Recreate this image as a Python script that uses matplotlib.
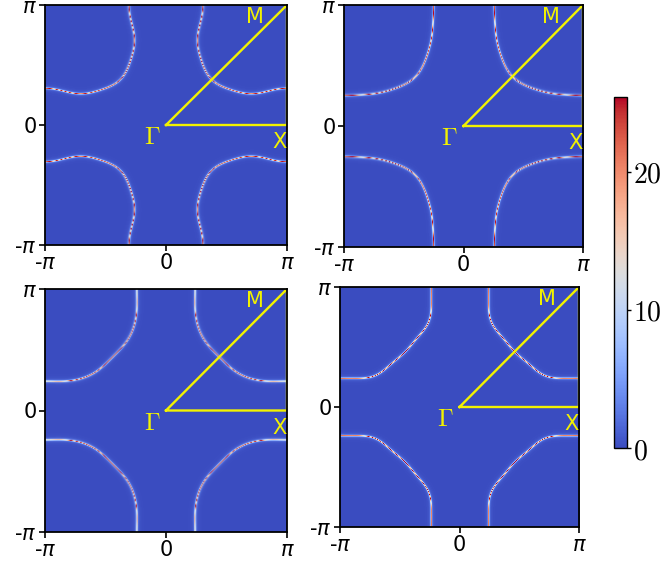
import numpy as np
import matplotlib
matplotlib.use("Agg")
import matplotlib.pyplot as plt

# ---- data: Fermi-surface crossings (first quadrant, units of pi)
fs1_kx = [1.0, 0.86, 0.694, 0.556, 0.38, 0.281, 0.253, 0.267, 0.295]
fs1_ky = [0.314, 0.297, 0.269, 0.306, 0.38, 0.514, 0.68, 0.82, 0.986]

fs2_kx = [1.0, 0.79, 0.652, 0.513, 0.404, 0.317, 0.275, 0.256, 0.25]
fs2_ky = [0.256, 0.264, 0.292, 0.353, 0.404, 0.518, 0.683, 0.876, 0.986]

fs3_kx = [1.0, 0.777, 0.639, 0.529, 0.442, 0.336, 0.267, 0.24, 0.234]
fs3_ky = [0.249, 0.249, 0.276, 0.344, 0.442, 0.577, 0.70, 0.82, 0.986]

fs4_kx = [1.0, 0.79, 0.69, 0.62, 0.458, 0.30, 0.252, 0.235, 0.232]
fs4_ky = [0.247, 0.247, 0.267, 0.322, 0.458, 0.64, 0.74, 0.836, 1.0]

panels_kx = [fs1_kx, fs2_kx, fs3_kx, fs4_kx]
panels_ky = [fs1_ky, fs2_ky, fs3_ky, fs4_ky]
panels_nharm = [4, 4, 4, 4]

cbar_ticks = [0, 10, 20]
cbar_labels = ["$0$", "$10$", "$20$"]
peak = 25.4           # maximum spectral weight (colorbar top)
eta = 0.011           # line half-width (rad)
ngrid = 240
axis_ticks = [-np.pi, 0, np.pi]
axis_ticklabels = ["-$\\pi$", "0", "$\\pi$"]


def fit_pocket(kxs, kys, nh):
    """C4v Fourier series r(theta) of the pocket around M through the read crossings."""
    kx = np.pi * np.array(kxs + kys)
    ky = np.pi * np.array(kys + kxs)
    qx, qy = kx - np.pi, ky - np.pi
    rho = np.hypot(qx, qy)
    th = np.arctan2(qy, qx)
    B = np.stack([np.cos(4 * n * th) for n in range(nh + 1)], axis=-1)
    c, *_ = np.linalg.lstsq(B, rho, rcond=None)
    return c


k = -np.pi + (np.arange(ngrid) + 0.5) * 2 * np.pi / ngrid
KX, KY = np.meshgrid(k, k)
QX = np.mod(KX, 2 * np.pi) - np.pi
QY = np.mod(KY, 2 * np.pi) - np.pi
RHO = np.hypot(QX, QY)
TH = np.arctan2(QY, QX)


def spectral(kxs, kys, nh):
    c = fit_pocket(kxs, kys, nh)
    r = sum(c[n] * np.cos(4 * n * TH) for n in range(nh + 1))
    dr = sum(-4 * n * c[n] * np.sin(4 * n * TH) for n in range(nh + 1))
    d = (RHO - r) / np.sqrt(1 + (dr / r) ** 2)
    return peak / (1 + (d / eta) ** 2)


fig = plt.figure(figsize=(6.68, 5.64), dpi=100)
W, H = 668, 564
boxes = [(45, 5, 287, 245), (344, 5, 583, 247), (45, 289, 287, 532), (340, 287, 579, 527)]
yellow = "#f2f200"

im = None
for (x0, y0, x1, y1), kxs, kys, nh in zip(boxes, panels_kx, panels_ky, panels_nharm):
    ax = fig.add_axes([x0 / W, 1 - y1 / H, (x1 - x0) / W, (y1 - y0) / H])
    Aspec = spectral(kxs, kys, nh)
    im = ax.imshow(Aspec, extent=[-np.pi, np.pi, -np.pi, np.pi], origin="lower",
                   cmap="coolwarm", vmin=0, vmax=peak, interpolation="bilinear",
                   aspect="auto")
    ax.plot([0, np.pi, np.pi, 0], [0, 0, np.pi, 0], color=yellow, lw=1.7)
    ax.text(0.735 * np.pi, 0.9 * np.pi, "M", color=yellow, fontsize=15,
            ha="center", va="center")
    ax.text(0.935 * np.pi, -0.14 * np.pi, "X", color=yellow, fontsize=15,
            ha="center", va="center")
    ax.text(-0.116 * np.pi, -0.1 * np.pi, "$\\Gamma$", color=yellow, fontsize=18,
            ha="center", va="center", math_fontfamily="cm")
    ax.set_xlim(-np.pi, np.pi)
    ax.set_ylim(-np.pi, np.pi)
    ax.set_xticks(axis_ticks)
    ax.set_yticks(axis_ticks)
    ax.set_xticklabels(axis_ticklabels, fontsize=15)
    ax.set_yticklabels(axis_ticklabels, fontsize=15)
    ax.tick_params(length=4, width=1.2, pad=2)
    for s in ax.spines.values():
        s.set_linewidth(1.3)

cax = fig.add_axes([614 / W, 1 - 448 / H, 13 / W, 351 / H])
cb = fig.colorbar(im, cax=cax, ticks=cbar_ticks)
cb.ax.set_yticklabels(cbar_labels, fontsize=20, math_fontfamily="cm")
cb.ax.tick_params(length=3, width=1, pad=1)
cb.outline.set_linewidth(1)

fig.savefig("out.png", dpi=100)
